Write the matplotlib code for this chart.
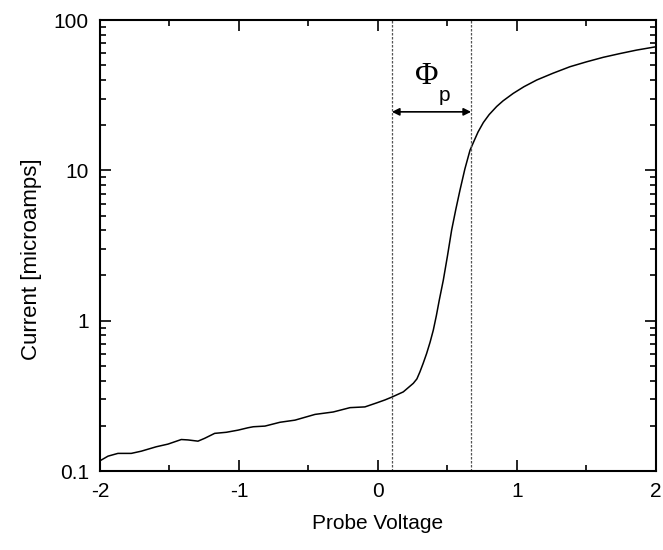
import numpy as np
import matplotlib
matplotlib.use('Agg')
import matplotlib.pyplot as plt
from matplotlib.ticker import LogLocator, MultipleLocator, NullFormatter, FixedLocator, FixedFormatter

plt.rcParams['font.family'] = ['Liberation Sans', 'DejaVu Sans']
plt.rcParams['axes.unicode_minus'] = False

# probe voltage vs current
voltage = [-2.0, -1.942, -1.871, -1.775, -1.703, -1.595, -1.511, -1.415, -1.367, -1.295,
           -1.247, -1.175, -1.091, -1.007, -0.935, -0.897, -0.813, -0.705, -0.597, -0.453,
           -0.322, -0.201, -0.094, -0.009, 0.05, 0.099, 0.182, 0.254, 0.28, 0.302,
           0.325, 0.350, 0.375, 0.398, 0.42, 0.441, 0.470, 0.50, 0.530, 0.56,
           0.590, 0.625, 0.662, 0.69, 0.72, 0.758, 0.80, 0.854, 0.90, 0.973,
           1.05, 1.142, 1.26, 1.381, 1.50, 1.621, 1.74, 1.861, 2.0]
current = [0.117, 0.1256, 0.131, 0.131, 0.1355, 0.145, 0.151, 0.162, 0.161, 0.158,
           0.165, 0.178, 0.181, 0.187, 0.194, 0.197, 0.199, 0.211, 0.218, 0.238,
           0.247, 0.264, 0.267, 0.284, 0.297, 0.31, 0.336, 0.383, 0.41, 0.457,
           0.52, 0.605, 0.72, 0.865, 1.08, 1.37, 1.86, 2.7, 4.01, 5.5,
           7.39, 10.2, 13.6, 15.6, 18.0, 20.8, 23.5, 26.6, 29.0, 32.5,
           36.0, 39.9, 44.3, 48.9, 52.7, 56.5, 59.8, 63.1, 66.4]

v_float = 0.1     # left dashed line
v_plasma = 0.67   # right dashed line
arrow_level = 24.5

fig = plt.figure(figsize=(6.63, 5.5), dpi=100)
ax = fig.add_axes([0.1508, 0.1436, 0.8386, 0.82])

ax.plot(voltage, current, color='black', lw=1.1)
ax.axvline(v_float, color='#555555', lw=0.9, ls=(0, (2, 1.2)))
ax.axvline(v_plasma, color='#555555', lw=0.9, ls=(0, (2, 1.2)))

ax.annotate('', xy=(v_float, arrow_level), xytext=(v_plasma, arrow_level),
            arrowprops=dict(arrowstyle='<|-|>', color='black', lw=1.2,
                            mutation_scale=11, shrinkA=0, shrinkB=0))
ax.text(0.349, 41.8, '\u03a6', fontsize=23, family=['Liberation Serif', 'DejaVu Serif'],
        ha='center', va='center')
ax.text(0.478, 31.5, 'p', fontsize=15, ha='center', va='center')

ax.set_xlim(-2, 2)
ax.set_yscale('log')
ax.set_ylim(0.1, 100)

ax.xaxis.set_major_locator(MultipleLocator(1))
ax.xaxis.set_minor_locator(MultipleLocator(0.5))
ax.yaxis.set_major_locator(FixedLocator([0.1, 1, 10, 100]))
ax.yaxis.set_major_formatter(FixedFormatter(['0.1', '1', '10', '100']))
ax.yaxis.set_minor_locator(LogLocator(base=10, subs=np.arange(2, 10)))
ax.yaxis.set_minor_formatter(NullFormatter())

ax.tick_params(which='both', direction='in', top=True, right=True, labelsize=15, width=1.2)
ax.tick_params(which='major', length=8, pad=8)
ax.tick_params(which='minor', length=4)
for s in ax.spines.values():
    s.set_linewidth(1.5)

ax.set_xlabel('Probe Voltage', fontsize=15, labelpad=9)
ax.set_ylabel('Current [microamps]', fontsize=16, labelpad=10)
ax.yaxis.set_label_coords(-0.105, 0.47)

fig.savefig('out.png', dpi=100)
